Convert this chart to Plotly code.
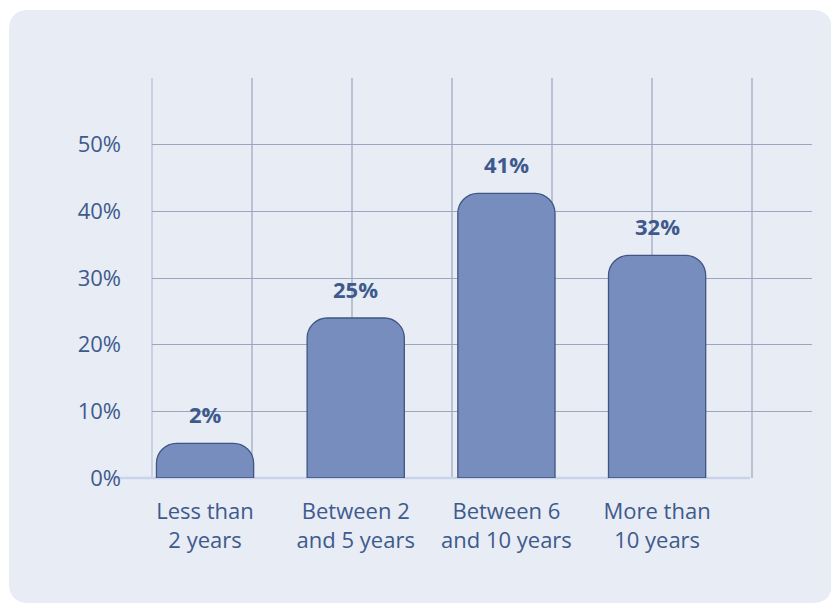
import plotly.graph_objects as go

# ---- data ----
categories = ["Less than<br>2 years", "Between 2<br>and 5 years", "Between 6<br>and 10 years", "More than<br>10 years"]
bar_heights = [5.2, 24.0, 42.7, 33.4]        # drawn bar heights (%)
label_values = [2, 25, 41, 32]               # value labels shown above bars (%)
y_tick_values = [0, 10, 20, 30, 40, 50]
y_tick_labels = ["0%", "10%", "20%", "30%", "40%", "50%"]

FONT = "Open Sans"
TXT = "#3E5A8C"
BAR = "#768DBD"
EDGE = "#3F5583"
PANEL = "#E8ECF5"
GRID = "#9AA5BF"

W, H = 831, 605
L, R, T, B = 152, 19, 78, 127
pw, ph = W - L - R, H - T - B

def px_x(p):
    return (p - L) / pw

def px_y(p):
    return (H - B - p) / ph

fig = go.Figure()
fig.add_trace(go.Bar(
    x=categories, y=bar_heights, width=0.645,
    marker=dict(color=BAR, line=dict(color=EDGE, width=1.3), cornerradius=20),
    hoverinfo="skip",
))

# value labels
for c, h, v in zip(categories, bar_heights, label_values):
    fig.add_annotation(x=c, y=h, text=f"<b>{v}%</b>", showarrow=False,
                       yanchor="bottom", yshift=12,
                       font=dict(family=FONT, size=22, color=TXT))

# panel with rounded corners
x0, x1 = px_x(9), px_x(832)
y0, y1 = px_y(603), px_y(10)
rx, ry = 20 / pw, 20 / ph
path = (f"M {x0+rx},{y1} L {x1-rx},{y1} Q {x1},{y1} {x1},{y1-ry} "
        f"L {x1},{y0+ry} Q {x1},{y0} {x1-rx},{y0} L {x0+rx},{y0} "
        f"Q {x0},{y0} {x0},{y0+ry} L {x0},{y1-ry} Q {x0},{y1} {x0+rx},{y1} Z")
shapes = [dict(type="path", path=path, xref="paper", yref="paper",
               fillcolor=PANEL, line=dict(width=0), layer="below")]
# vertical grid lines
for k in range(7):
    xp = px_x(152 + 100 * k)
    shapes.append(dict(type="line", xref="paper", yref="paper", x0=xp, x1=xp, y0=0, y1=1,
                       line=dict(color=GRID if k else "#B8C0D5", width=1.2), layer="between"))
# baseline
shapes.append(dict(type="line", xref="paper", yref="paper", x0=px_x(114), x1=px_x(750), y0=0, y1=0,
                   line=dict(color="#C9D3EB", width=2.5), layer="between"))

fig.update_layout(
    width=W, height=H, margin=dict(l=L, r=R, t=T, b=B),
    paper_bgcolor="white", plot_bgcolor="rgba(0,0,0,0)",
    showlegend=False, shapes=shapes,
    font=dict(family=FONT, color=TXT, size=22),
    xaxis=dict(range=[-0.352, 4.028], showgrid=False, zeroline=False, showline=False,
               ticks="", tickfont=dict(family=FONT, size=22, color=TXT), ticklabelstandoff=18,
               fixedrange=True),
    yaxis=dict(range=[0, 60], tickvals=y_tick_values, ticktext=y_tick_labels,
               showgrid=True, gridcolor=GRID, gridwidth=1.2, zeroline=False, showline=False,
               ticks="", tickfont=dict(family=FONT, size=22, color=TXT), ticklabelstandoff=30,
               fixedrange=True),
)

fig.write_html("out.html")
